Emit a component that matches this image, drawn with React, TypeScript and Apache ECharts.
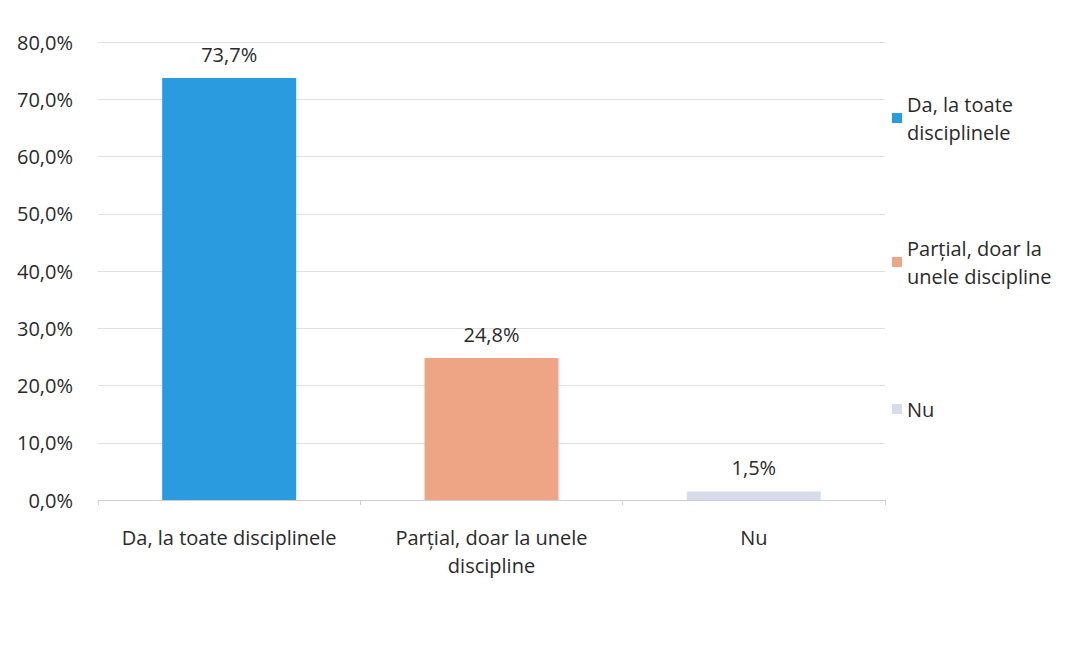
import React, { useEffect, useRef } from "react";
import * as echarts from "echarts";

const categories = ["Da, la toate disciplinele", "Parțial, doar la unele\ndiscipline", "Nu"];
const seriesNames = ["Da, la toate\ndisciplinele", "Parțial, doar la\nunele discipline", "Nu"];
const values = [73.7, 24.8, 1.5];
const colors = ["#2b9be0", "#eda585", "#d6dde9"];
const yTicks = { min: 0, max: 80, interval: 10 };

const FONT = "Open Sans";
const FS = 20;
const TXT = "#2a2a2a";

export default function App() {
  const ref = useRef<HTMLDivElement>(null);
  useEffect(() => {
    if (!ref.current) return;
    const chart = echarts.init(ref.current, null, { renderer: "svg" });
    const series = values.map((v, i) => ({
      name: seriesNames[i],
      type: "bar",
      stack: "all",
      barWidth: 134,
      data: values.map((_, j) => (j === i ? v : "-")),
      itemStyle: { color: colors[i] },
      label: {
        show: true,
        position: "top",
        distance: 14,
        fontFamily: FONT,
        fontSize: FS,
        color: TXT,
        formatter: (p: any) => p.value.toFixed(1).replace(".", ",") + "%",
      },
    }));
    const legendTops = [76, 220, 395];
    const legends = seriesNames.map((n, i) => {
      const lines = n.split("\n").length;
      return {
        orient: "vertical",
        left: 892,
        top: legendTops[i],
        padding: 0,
        itemWidth: 10,
        itemHeight: 10,
        icon: "rect",
        data: [n],
        selectedMode: false,
        textStyle: {
          fontFamily: FONT,
          fontSize: FS,
          color: TXT,
          lineHeight: 28,
          padding: lines > 1 ? [28 * (lines - 1), 0, 0, 0] : 0,
        },
      };
    });
    chart.setOption({
      animation: false,
      backgroundColor: "#ffffff",
      grid: { left: 98, right: 206, top: 42, bottom: 150, containLabel: false },
      legend: legends,
      xAxis: {
        type: "category",
        data: categories,
        axisLine: { show: true, lineStyle: { color: "#cfcfcf", width: 1 } },
        axisTick: { show: true, length: 5, lineStyle: { color: "#cfcfcf" } },
        axisLabel: {
          interval: 0,
          hideOverlap: false,
          fontFamily: FONT,
          fontSize: FS,
          color: TXT,
          lineHeight: 28,
          margin: 23,
        },
      },
      yAxis: {
        type: "value",
        min: yTicks.min,
        max: yTicks.max,
        interval: yTicks.interval,
        axisLine: { show: false },
        axisTick: { show: false },
        splitLine: { lineStyle: { color: "#e0e0e0", width: 1 } },
        axisLabel: {
          fontFamily: FONT,
          fontSize: FS,
          color: TXT,
          margin: 25,
          formatter: (v: number) => v.toFixed(1).replace(".", ",") + "%",
        },
      },
      series,
    });
    return () => chart.dispose();
  }, []);
  return (
    <div
      ref={ref}
      style={{ position: "absolute", left: 0, top: 0, width: 1091, height: 650, background: "#fff" }}
    />
  );
}
